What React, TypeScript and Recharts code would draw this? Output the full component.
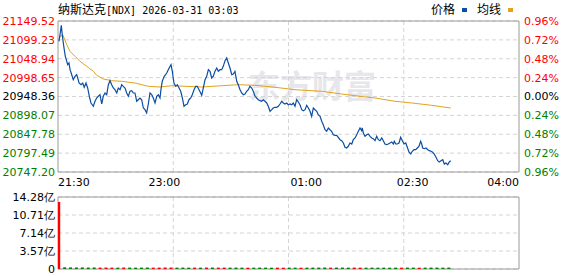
import React from 'react';
import { ComposedChart, Line, Bar, Cell, XAxis, YAxis, CartesianGrid, ReferenceArea } from 'recharts';

// minutes after 21:30 for each traded point, and the index value there
const minutes = [
  0.8, 1.9, 2.8, 3.6, 4.5, 5.3, 6.2, 7.4, 8.2, 9.3, 10.2, 11.6, 12.9, 14.4, 15.8, 16.7, 17.8, 19.5, 20.9, 22.2,
  23.7, 25.1, 26.5, 27.9, 29.9, 31.3, 32.7, 34.1, 35.5, 37.0, 38.3, 39.8, 41.2, 42.6, 44.0, 45.4, 46.8, 48.2, 49.7, 51.0,
  52.5, 53.9, 55.2, 56.7, 58.1, 59.5, 60.9, 62.4, 63.7, 65.1, 66.6, 67.9, 69.4, 70.8, 72.2, 73.6, 75.0, 76.4, 77.8, 79.3,
  80.6, 82.1, 83.5, 84.9,
  86.3, 87.1, 88.2, 89.9, 92.0, 93.3, 94.8, 95.6, 96.7, 98.1, 99.6, 100.9, 102.4, 103.8, 105.2, 106.6, 108.0, 109.4, 110.8, 112.3,
  113.6, 115.1, 116.5, 117.8, 119.3, 120.7, 121.6, 122.9, 124.4, 125.8, 127.2, 128.6, 130.0, 131.4, 132.8, 134.3, 135.6, 137.1, 138.5, 139.8,
  141.3, 142.7, 144.1, 145.5, 147.0, 148.3, 149.7, 151.2, 152.5, 154.0, 155.4, 156.8, 158.2, 159.6, 161.0, 162.4, 163.9, 165.2,
  166.7, 168.1, 169.5, 170.9, 172.3, 173.7, 175.1, 176.6, 177.9, 179.4, 180.8, 182.1, 183.6, 185.0, 186.4, 187.8, 189.3, 190.6, 192.0, 193.5,
  194.8, 196.3, 197.7, 199.1, 200.5, 201.9, 203.3, 204.7, 206.2, 207.5, 209.0, 210.4, 211.8, 213.2, 214.6, 216.0, 217.4, 218.9, 220.2, 221.7,
  223.1, 224.4, 225.9, 227.3, 228.7, 230.1, 231.5, 232.9, 234.3, 235.8, 237.1, 238.6, 240.0, 241.4, 242.8, 244.2, 245.6, 247.0, 248.5, 249.8,
  251.3, 252.7, 254.1, 255.5, 256.9, 257.4, 258.3, 259.7, 261.2, 262.5, 264.0, 265.4, 266.7, 268.2, 269.6, 271.0, 272.4, 273.9, 275.2, 276.6,
  278.1, 279.4, 280.9, 282.3, 283.7, 284.5, 285.7, 287.0, 288.5, 289.9, 291.3, 292.7, 294.2, 295.5, 296.9, 298.4, 299.7, 301.2, 302.6, 304.0,
  305.4, 306.8, 307.7, 308.5, 309.9, 311.3, 312.8, 314.1, 315.6, 317.0, 318.3, 319.8, 321.2, 322.6, 324.0, 325.5, 326.8, 328.2, 329.7, 331.0,
  332.2,
];

const prices = [
  21095.4, 21117.5, 21138.0, 21113.0, 21090.9, 21073.0, 21055.5, 21042.1, 21033.1, 21037.6, 21019.8, 21006.4, 20993.1, 21002.2, 21006.4, 20997.7, 20984.3, 20979.8, 20984.3, 20972.9,
  20984.3, 20971.0, 20948.9, 20931.1, 20922.3, 20935.6, 20944.4, 20948.9, 20953.2, 20928.4, 20948.9, 20957.7, 20953.2, 20979.8, 20990.5, 20979.8, 20971.0, 20966.5, 20957.7, 20971.0,
  20966.5, 20979.8, 20975.5, 20971.0, 20957.7, 20948.9, 20962.2, 20963.8, 20957.7, 20957.7, 20935.6, 20939.8, 20944.4, 20939.8, 20917.7, 20913.2, 20904.4, 20928.4, 20957.7, 20953.2,
  20944.4, 20931.1, 20948.9, 20953.2,
  20944.4, 20966.5, 20988.9, 21002.2, 21011.0, 21019.8, 21028.8, 21033.1, 21015.5, 20984.3, 20975.5, 20979.8, 20971.0, 20962.2, 20944.4, 20922.3, 20926.5, 20928.4, 20939.8, 20944.4,
  20953.2, 20966.5, 20975.5, 20975.5, 20966.5, 20957.7, 20951.6, 20971.0, 20993.1, 21002.2, 21019.8, 21015.5, 20997.7, 21002.2, 21015.5, 21024.3, 21015.5, 21019.8, 21019.8, 21028.8,
  21043.7, 21050.9, 21037.6, 21024.3, 21006.4, 21008.3, 21015.5, 20988.9, 20979.8, 20966.5, 20957.7, 20953.2, 20955.0, 20962.2, 20966.5, 20975.5, 20971.0, 20962.2,
  20948.9, 20944.4, 20939.8, 20937.2, 20935.6, 20939.8, 20935.6, 20931.1, 20922.3, 20908.9, 20913.2, 20917.7, 20919.6, 20919.6, 20922.3, 20928.4, 20935.6, 20931.1, 20928.4, 20931.1,
  20926.5, 20928.4, 20926.5, 20931.1, 20922.3, 20939.8, 20933.7, 20926.5, 20913.2, 20910.5, 20913.2, 20924.9, 20917.7, 20908.9, 20895.6, 20917.7, 20913.2, 20908.9, 20899.9, 20895.6,
  20882.3, 20873.2, 20859.9, 20855.7, 20864.5, 20859.9, 20855.7, 20846.6, 20845.0, 20845.0, 20839.7, 20833.3, 20830.6, 20824.5, 20813.0, 20811.2, 20815.7, 20824.5, 20821.8, 20833.3,
  20837.8, 20846.6, 20855.7, 20864.5, 20857.3, 20864.5, 20851.1, 20842.3, 20846.6, 20848.5, 20842.3, 20837.8, 20835.9, 20830.6, 20842.3, 20833.3, 20830.6, 20837.8, 20830.6, 20821.8,
  20820.0, 20821.8, 20824.5, 20827.2, 20821.8, 20829.0, 20821.8, 20821.8, 20824.5, 20839.7, 20830.6, 20821.8, 20824.5, 20813.0, 20800.5, 20795.2, 20802.4, 20806.6, 20806.6, 20811.2,
  20815.7, 20829.0, 20821.8, 20811.2, 20809.3, 20811.2, 20806.6, 20804.0, 20802.4, 20799.7, 20795.2, 20786.4, 20777.3, 20773.9, 20777.3, 20780.0, 20768.5, 20771.2, 20766.7, 20773.9,
  20777.3,
];

const avgMinutes = [0.8, 1.7, 4.2, 7.4, 10.2, 14.4, 18.6, 24.3, 29.9, 32.7, 38.3, 45.4, 53.9, 65.1, 76.4, 86.3, 96.2, 121.6, 138.5, 152.5, 166.7, 183.6, 200.5, 223.1, 240.0, 255.5, 268.2, 285.1, 299.2, 316.1, 332.2];
const avgPrices = [21098.9, 21108.8, 21112.2, 21086.4, 21068.8, 21055.5, 21042.1, 21028.8, 21015.5, 21004.9, 20995.0, 20990.5, 20988.9, 20984.3, 20975.5, 20973.7, 20977.1, 20973.7, 20977.1, 20979.8, 20978.2, 20972.9, 20966.5, 20962.2, 20955.0, 20948.9, 20944.4, 20935.6, 20931.1, 20924.9, 20917.7];

// volume (亿) in 5-minute buckets
const volMinutes = [
  1, 6, 11, 16, 21, 26, 31, 36, 41, 46, 51, 56, 61, 66, 71, 76, 81, 86, 91, 96, 101, 106, 111, 116, 121, 126, 131, 136, 141, 146,
  151, 156, 161, 166, 171, 176, 181, 186, 191, 196, 201, 206, 211, 216, 221, 226, 231, 236, 241, 246, 251, 256, 261, 266, 271, 276,
  281, 286, 291, 296, 301, 306, 311, 316, 321, 326, 331,
];
const volumes = [
  13.3, 0.34, 0.32, 0.3, 0.31, 0.29, 0.3, 0.28, 0.29, 0.28, 0.27, 0.3, 0.28, 0.27, 0.28, 0.29, 0.27, 0.28, 0.3, 0.29, 0.27, 0.28, 0.27, 0.28, 0.27, 0.28, 0.29, 0.27, 0.28, 0.27,
  0.28, 0.27, 0.26, 0.27, 0.28, 0.27, 0.26, 0.27, 0.26, 0.26, 0.27, 0.26, 0.27, 0.28, 0.28, 0.29, 0.27, 0.28, 0.28, 0.27, 0.28, 0.27, 0.26, 0.27, 0.26, 0.27,
  0.26, 0.27, 0.26, 0.28, 0.27, 0.26, 0.27, 0.28, 0.28, 0.27, 0.28,
];

const BASE = 20948.36;
const priceTicks = [20747.2, 20797.49, 20847.78, 20898.07, 20948.36, 20998.65, 21048.94, 21099.23, 21149.52];
const pctLabels = ['0.96%', '0.72%', '0.48%', '0.24%', '0.00%', '0.24%', '0.48%', '0.72%', '0.96%'];
const volTicks = [0, 3.57, 7.14, 10.71, 14.28];
const volLabels = ['0', '3.57亿', '7.14亿', '10.71亿', '14.28亿'];
const timeTicks = [0, 90, 210, 300, 390];
const timeLabels = ['21:30', '23:00', '01:00', '02:30', '04:00'];

const RED = '#ff0000';
const GREEN = '#008000';
const BLUE = '#0b4ea2';
const ORANGE = '#e2a21f';
const GRID = '#d4d4d4';
const FONT = "'DejaVu Sans', Verdana, sans-serif";

const priceData = minutes.map((m, i) => ({ m, price: prices[i] }));
const avgData = avgMinutes.map((m, i) => ({ m, avg: avgPrices[i] }));

function priceAt(t: number) {
  let v = prices[0];
  for (let i = 0; i < minutes.length; i++) {
    if (minutes[i] <= t) v = prices[i];
    else break;
  }
  return v;
}

const volData = volMinutes.map((m, i) => ({
  m,
  vol: volumes[i],
  up: i === 0 || priceAt(m) >= priceAt(m - 5),
}));

const levelColor = (v: number) => (v > BASE + 0.01 ? RED : v < BASE - 0.01 ? GREEN : '#000');

const LeftTick = (props: any) => {
  const { x, y, payload } = props;
  const v = payload.value as number;
  return (
    <text x={x} y={y} dy="0.36em" textAnchor="end" fill={levelColor(v)} fontSize={11} fontFamily={FONT}>
      {v.toFixed(2)}
    </text>
  );
};

const RightTick = (props: any) => {
  const { x, y, payload, index } = props;
  const v = payload.value as number;
  const i = priceTicks.indexOf(v);
  return (
    <text x={x} y={y} dy="0.36em" textAnchor="start" fill={levelColor(v)} fontSize={11} fontFamily={FONT}>
      {pctLabels[pctLabels.length - 1 - (i >= 0 ? i : index)]}
    </text>
  );
};

const TimeTick = (props: any) => {
  const { x, y, payload } = props;
  const i = timeTicks.indexOf(payload.value);
  const anchor = i === 0 ? 'start' : i === timeTicks.length - 1 ? 'end' : 'middle';
  return (
    <text x={x} y={y + 14} textAnchor={anchor} fill="#000" fontSize={11} fontFamily={FONT}>
      {timeLabels[i]}
    </text>
  );
};

const VolTick = (props: any) => {
  const { x, y, payload } = props;
  const i = volTicks.indexOf(payload.value);
  return (
    <text x={x} y={y} dy="0.36em" textAnchor="end" fill="#000" fontSize={11} fontFamily={FONT}>
      {volLabels[i]}
    </text>
  );
};

const quarterLines = ({ offset }: any) => [1, 2, 3].map((k) => offset.left + (offset.width * k) / 4);

export default function App() {
  return (
    <div style={{ position: 'absolute', left: 0, top: 0, width: 578, height: 276, background: '#fff', overflow: 'hidden' }}>
      {/* watermark */}
      <div
        style={{
          position: 'absolute', left: 248, top: 66, fontSize: 32, fontWeight: 700, color: '#e6e6eb',
          fontFamily: "'Noto Sans CJK SC', sans-serif", lineHeight: '36px', whiteSpace: 'nowrap',
        }}
      >
        东方财富
      </div>

      {/* title */}
      <div style={{ position: 'absolute', left: 58, top: 1, height: 16, lineHeight: '16px', whiteSpace: 'nowrap', color: '#000' }}>
        <span style={{ fontFamily: "'Noto Sans CJK SC', sans-serif", fontSize: 12 }}>纳斯达克</span>
        <span style={{ fontFamily: "'DejaVu Sans Mono', monospace", fontSize: 10 }}>[NDX] 2026-03-31 03:03</span>
      </div>

      {/* legend */}
      <div style={{ position: 'absolute', left: 431, top: 1, height: 16, lineHeight: '16px', whiteSpace: 'nowrap', fontFamily: "'Noto Sans CJK SC', sans-serif", fontSize: 12, color: '#000' }}>
        <span>价格</span>
        <span style={{ display: 'inline-block', width: 5, height: 4, background: BLUE, margin: '0 0 2px 7px' }} />
        <span style={{ marginLeft: 10 }}>均线</span>
        <span style={{ display: 'inline-block', width: 5, height: 4, background: ORANGE, margin: '0 0 2px 7px' }} />
      </div>

      <div style={{ position: 'absolute', left: 0, top: 0 }}>
        <ComposedChart width={578} height={192} margin={{ top: 21, right: 0, bottom: 0, left: 0 }}>
          <CartesianGrid stroke={GRID} strokeDasharray="4 3" verticalCoordinatesGenerator={quarterLines} />
          <XAxis
            dataKey="m"
            type="number"
            domain={[0, 390]}
            ticks={timeTicks}
            interval={0}
            tick={<TimeTick />}
            tickLine={false}
            axisLine={false}
            tickSize={0}
            tickMargin={0}
            height={20}
            allowDataOverflow
          />
          <YAxis
            domain={[20747.2, 21149.52]}
            ticks={priceTicks}
            interval={0}
            tick={<LeftTick />}
            tickLine={false}
            axisLine={false}
            tickSize={0}
            tickMargin={3}
            width={58}
            allowDataOverflow
          />
          <YAxis
            yAxisId="r"
            orientation="right"
            domain={[20747.2, 21149.52]}
            ticks={priceTicks}
            interval={0}
            tick={<RightTick />}
            tickLine={false}
            axisLine={false}
            tickSize={0}
            tickMargin={5}
            width={59}
            allowDataOverflow
          />
          <Line data={avgData} dataKey="avg" type="linear" stroke={ORANGE} strokeWidth={1} dot={false} isAnimationActive={false} />
          <Line data={priceData} dataKey="price" type="linear" stroke={BLUE} strokeWidth={1.2} dot={false} isAnimationActive={false} />
          <ReferenceArea x1={0} x2={390} y1={20747.2} y2={21149.52} fill="none" fillOpacity={0} stroke="#9a9a9a" strokeWidth={1} />
        </ComposedChart>
      </div>

      <div style={{ position: 'absolute', left: 0, top: 192 }}>
        <ComposedChart width={578} height={84} data={volData} margin={{ top: 5, right: 59, bottom: 7, left: 0 }}>
          <CartesianGrid stroke={GRID} strokeDasharray="4 3" verticalCoordinatesGenerator={quarterLines} />
          <XAxis dataKey="m" type="number" domain={[0, 390]} hide allowDataOverflow />
          <YAxis
            domain={[0, 14.28]}
            ticks={volTicks}
            interval={0}
            tick={<VolTick />}
            tickLine={false}
            axisLine={false}
            tickSize={0}
            tickMargin={3}
            width={58}
            allowDataOverflow
          />
          <Bar dataKey="vol" barSize={3} isAnimationActive={false}>
            {volData.map((d, i) => (
              <Cell key={`v-${i}`} fill={d.up ? RED : GREEN} />
            ))}
          </Bar>
          <ReferenceArea x1={0} x2={390} y1={0} y2={14.28} fill="none" fillOpacity={0} stroke="#9a9a9a" strokeWidth={1} />
        </ComposedChart>
      </div>
    </div>
  );
}
